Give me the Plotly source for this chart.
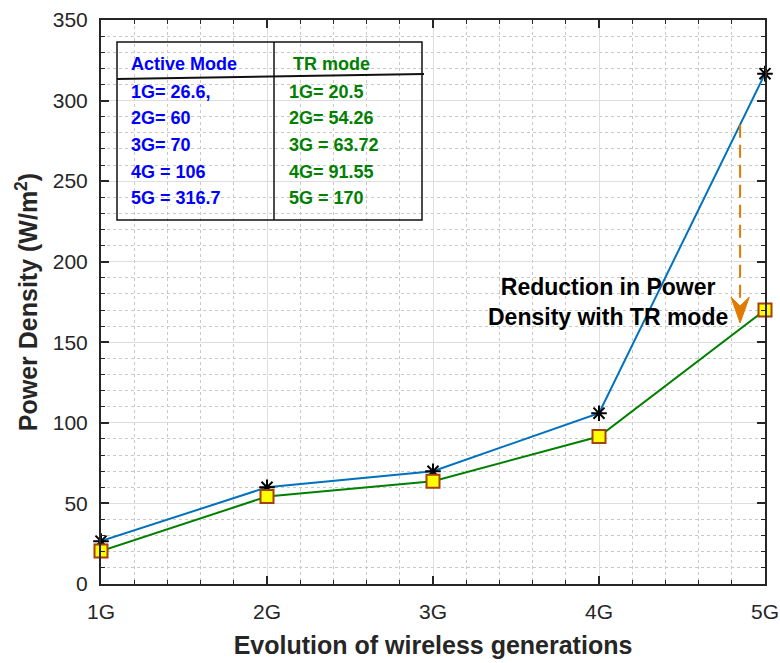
import plotly.graph_objects as go

generations = ["1G", "2G", "3G", "4G", "5G"]
gen_pos = [1, 2, 3, 4, 5]
active_mode = [26.6, 60, 70, 106, 316.7]
tr_mode = [20.5, 54.26, 63.72, 91.55, 170]

active_labels = ["1G= 26.6,", "2G= 60", "3G= 70", "4G = 106", "5G = 316.7"]
tr_labels = ["1G= 20.5", "2G= 54.26", "3G = 63.72", "4G= 91.55", "5G = 170"]

y_ticks = [0, 50, 100, 150, 200, 250, 300, 350]

fig = go.Figure()
fig.add_trace(go.Scatter(
    x=gen_pos, y=active_mode, mode="lines+markers", name="Active Mode",
    line=dict(color="#0072BD", width=2),
    marker=dict(symbol="asterisk-open", size=13, color="black",
                line=dict(color="black", width=2)),
    cliponaxis=False, showlegend=False))
fig.add_trace(go.Scatter(
    x=gen_pos, y=tr_mode, mode="lines+markers", name="TR mode",
    line=dict(color="#008000", width=2),
    marker=dict(symbol="square", size=13, color="#FFFF00", line=dict(color="#A5400F", width=2)),
    cliponaxis=False, showlegend=False))

W, H = 780, 663
L, R, T, B = 101, 15, 20, 79
pw, ph = W - L - R, H - T - B

# helpers converting reference pixel positions to paper coords
def px(xp):
    return (xp - L) / pw

def py(yp):
    return (H - B - yp) / ph

shapes = []
# table
shapes.append(dict(type="rect", xref="paper", yref="paper",
                   x0=px(117), x1=px(422), y0=py(220), y1=py(42),
                   line=dict(color="#111111", width=1.5)))
shapes.append(dict(type="line", xref="paper", yref="paper",
                   x0=px(274), x1=px(274), y0=py(220), y1=py(42),
                   line=dict(color="#111111", width=1.5)))
shapes.append(dict(type="line", xref="paper", yref="paper",
                   x0=px(117), x1=px(424), y0=py(79), y1=py(74),
                   line=dict(color="#111111", width=2.2)))
# dashed arrow
ax_x = 4.85
shapes.append(dict(type="line", xref="x", yref="y", x0=ax_x, x1=ax_x, y0=285, y1=176,
                   line=dict(color="#E07B00", width=2, dash="13px,7px")))
shapes.append(dict(type="path", xref="x", yref="y",
                   path=f"M {ax_x} 162 L {ax_x-0.055} 178 L {ax_x} 172.5 L {ax_x+0.055} 178 Z",
                   fillcolor="#E07B00", line=dict(color="#E07B00", width=1)))

annotations = []
tfont = "Liberation Sans, Arial, sans-serif"
row_y = [92, 118, 145, 172, 198]
annotations.append(dict(xref="paper", yref="paper", x=px(129), y=py(64), text="<b>Active Mode</b>",
                        showarrow=False, xanchor="left", yanchor="middle",
                        font=dict(family=tfont, size=18, color="#0000FF")))
annotations.append(dict(xref="paper", yref="paper", x=px(291), y=py(64), text="<b>TR mode</b>",
                        showarrow=False, xanchor="left", yanchor="middle",
                        font=dict(family=tfont, size=18, color="#008000")))
for lab, yy in zip(active_labels, row_y):
    annotations.append(dict(xref="paper", yref="paper", x=px(129), y=py(yy), text=f"<b>{lab}</b>",
                            showarrow=False, xanchor="left", yanchor="middle",
                            font=dict(family=tfont, size=18, color="#0000FF")))
for lab, yy in zip(tr_labels, row_y):
    annotations.append(dict(xref="paper", yref="paper", x=px(287), y=py(yy), text=f"<b>{lab}</b>",
                            showarrow=False, xanchor="left", yanchor="middle",
                            font=dict(family=tfont, size=18, color="#008000")))
annotations.append(dict(xref="paper", yref="paper", x=px(608), y=py(302),
                        text="<b>Reduction in Power<br>Density with TR mode</b>",
                        showarrow=False, xanchor="center", yanchor="middle", align="center",
                        font=dict(family=tfont, size=23, color="black")))

axis_common = dict(
    showline=True, linecolor="#262626", linewidth=2, mirror="ticks",
    ticks="inside", ticklen=8, tickwidth=1.5, tickcolor="#262626",
    showgrid=True, gridcolor="#DEDEDE", gridwidth=1,
    tickfont=dict(family=tfont, size=21, color="#262626"),
    ticklabeloverflow="allow",
    zeroline=False,
)

fig.update_xaxes(
    range=[1, 5], tickvals=gen_pos, ticktext=generations,
    minor=dict(dtick=0.2, ticks="inside", ticklen=4, tickcolor="#262626", tickwidth=1.2,
               showgrid=True, gridcolor="#C8C8C8", griddash="dot", gridwidth=1),
    title=dict(text="<b>Evolution of wireless generations</b>",
               font=dict(family=tfont, size=25, color="#262626"), standoff=14),
    ticklabelstandoff=8,
    **axis_common)
fig.update_yaxes(
    range=[0, 350], tickvals=y_ticks,
    minor=dict(dtick=10, ticks="inside", ticklen=4, tickcolor="#262626", tickwidth=1.2,
               showgrid=True, gridcolor="#C8C8C8", griddash="dot", gridwidth=1),
    title=dict(text="<b>Power Density (W/m<sup>2</sup>)</b>",
               font=dict(family=tfont, size=25, color="#262626"), standoff=8),
    ticklabelstandoff=7,
    **axis_common)

fig.update_layout(
    width=W, height=H,
    margin=dict(l=L, r=R, t=T, b=B, autoexpand=False),
    paper_bgcolor="white", plot_bgcolor="white",
    shapes=shapes, annotations=annotations,
)

fig.write_html("out.html", config={"displayModeBar": False},
               post_script="document.body.style.margin='0';document.body.style.overflow='hidden';")
